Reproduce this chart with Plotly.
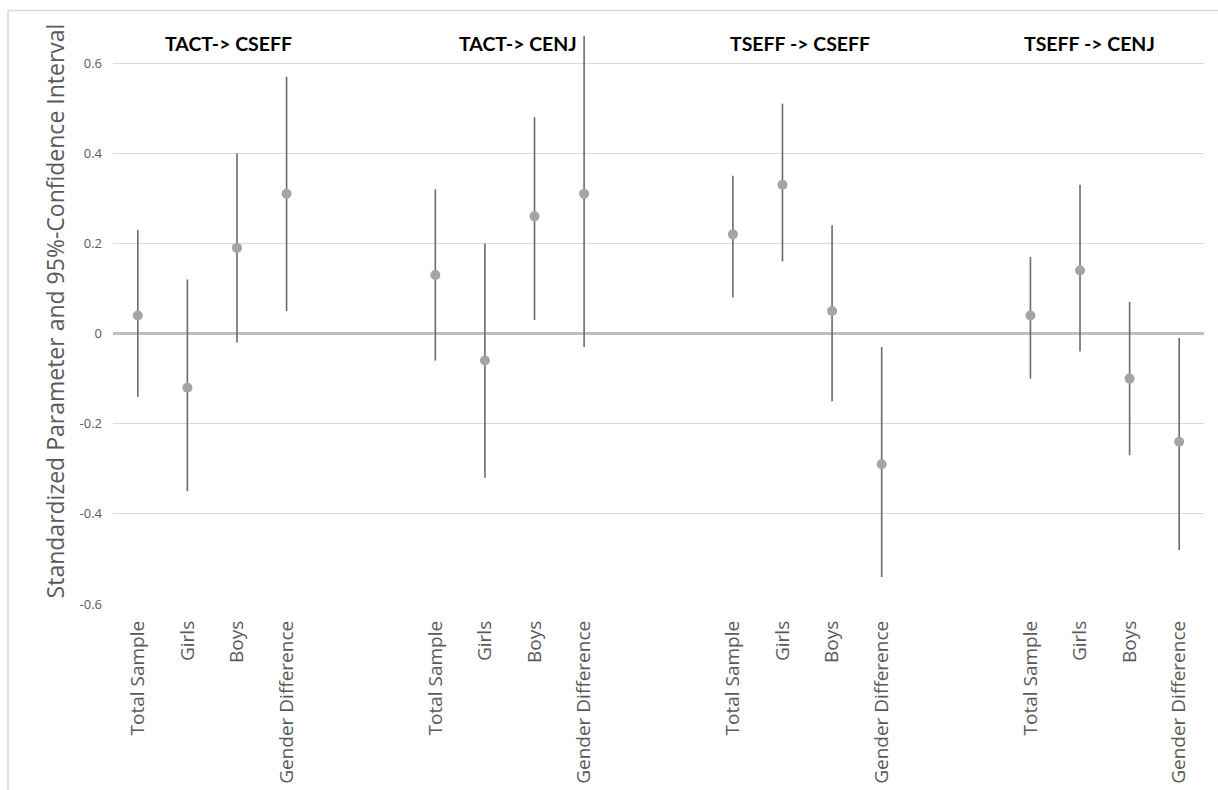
import plotly.graph_objects as go

groups = ["TACT-> CSEFF", "TACT-> CENJ", "TSEFF -> CSEFF", "TSEFF -> CENJ"]
categories = ["Total Sample", "Girls", "Boys", "Gender Difference"]

estimate = [
    [0.04, -0.12, 0.19, 0.31],
    [0.13, -0.06, 0.26, 0.31],
    [0.22, 0.33, 0.05, -0.29],
    [0.04, 0.14, -0.10, -0.24],
]
lower = [
    [-0.14, -0.35, -0.02, 0.05],
    [-0.06, -0.32, 0.03, -0.03],
    [0.08, 0.16, -0.15, -0.54],
    [-0.10, -0.04, -0.27, -0.48],
]
upper = [
    [0.23, 0.12, 0.40, 0.57],
    [0.32, 0.20, 0.48, 0.66],
    [0.35, 0.51, 0.24, -0.03],
    [0.17, 0.33, 0.07, -0.01],
]
y_ticks = [-0.6, -0.4, -0.2, 0, 0.2, 0.4, 0.6]
y_tick_labels = ["-0.6", "-0.4", "-0.2", "0", "0.2", "0.4", "0.6"]

SLOT = 6  # 4 categories + 2 empty slots per group

xs, ys, ep, em, tickvals, ticktext = [], [], [], [], [], []
for g in range(len(groups)):
    for i, c in enumerate(categories):
        x = g * SLOT + i
        xs.append(x)
        ys.append(estimate[g][i])
        ep.append(upper[g][i] - estimate[g][i])
        em.append(estimate[g][i] - lower[g][i])
        tickvals.append(x)
        ticktext.append(c)

fig = go.Figure()
fig.add_trace(go.Scatter(
    x=xs, y=ys, mode="markers",
    marker=dict(color="#a5a5a5", size=10),
    error_y=dict(type="data", symmetric=False, array=ep, arrayminus=em,
                 color="#6a6a6a", thickness=1.6, width=0),
    showlegend=False, cliponaxis=False,
))

title_x = [1.83, 7.66, 13.35, 19.2]
for g, name in enumerate(groups):
    fig.add_annotation(x=title_x[g], y=0.643, xref="x", yref="y", text="<b>%s</b>" % name,
                       showarrow=False, font=dict(family="Lato", size=19.5, color="#000000"))

# chart frame (partially visible in reference)
fig.add_shape(type="line", xref="paper", yref="paper", x0=-0.0962, x1=1.02, y0=1.013, y1=1.013,
              line=dict(color="#d9d9d9", width=1.5))
fig.add_shape(type="line", xref="paper", yref="paper", x0=-0.0962, x1=-0.0962, y0=-0.35, y1=1.013,
              line=dict(color="#d9d9d9", width=1.5))

fig.update_layout(
    width=1218, height=790,
    margin=dict(l=113, r=14, t=18, b=186, autoexpand=False),
    paper_bgcolor="white", plot_bgcolor="white",
    font=dict(family="Open Sans", color="#595959"),
    xaxis=dict(range=[-0.5, 21.5], tickvals=tickvals, ticktext=ticktext, tickangle=-90,
               showgrid=False, zeroline=False, showline=False, ticks="", automargin=False,
               tickfont=dict(family="Open Sans", size=19, color="#595959"), ticklabelstandoff=12),
    yaxis=dict(range=[-0.6, 0.7], tickvals=y_ticks, ticktext=y_tick_labels,
               showgrid=True, gridcolor="#d9d9d9", gridwidth=1,
               zeroline=True, zerolinecolor="#bfbfbf", zerolinewidth=3,
               showline=False, ticks="", tickfont=dict(family="Open Sans", size=13, color="#595959"),
               ticklabelstandoff=10, automargin=False,
               title=dict(text="Standardized Parameter and 95%-Confidence Interval",
                          font=dict(family="Open Sans", size=23, color="#595959"), standoff=8)),
)

fig.write_html("out.html", config={"displayModeBar": False},
               post_script="document.body.style.margin='0px';")
